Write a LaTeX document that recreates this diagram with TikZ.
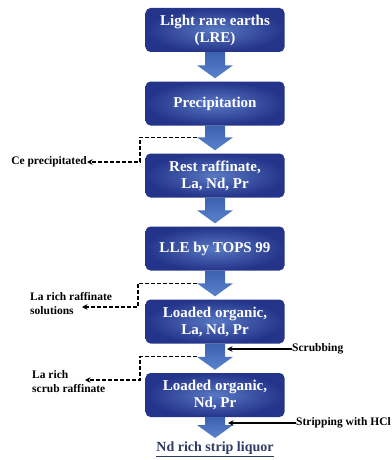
\documentclass[tikz,border=0pt]{standalone}
\usepackage{fontspec}
\setmainfont{Liberation Serif}
\usetikzlibrary{arrows.meta,calc}
\definecolor{boxedge}{HTML}{24348A}
\definecolor{boxcenter}{HTML}{5878C2}
\definecolor{arrowtop}{HTML}{3A62B0}
\definecolor{arrowbot}{HTML}{5A82CC}
\definecolor{productcolor}{HTML}{2E3C66}
\tikzset{
  flow box/.style={rounded corners=5pt,minimum width=139pt,minimum height=44pt,align=center,
    text=white,font=\fontsize{15}{17}\selectfont\bfseries,inner color=boxcenter,outer color=boxedge},
  flow arrow/.style={top color=arrowtop,bottom color=arrowbot},
  side text/.style={font=\fontsize{11.5}{14}\selectfont\bfseries,align=left,inner sep=0pt},
  product text/.style={font=\fontsize{14}{16}\selectfont\bfseries,text=productcolor,inner sep=1pt},
  side out/.style={black,line width=1.3pt,dash pattern=on 4pt off 2pt,-{Stealth[length=5.5pt,width=5.5pt]}},
  side in/.style={black,line width=1.2pt,-{Stealth[length=5.5pt,width=5.5pt]}}
}
\begin{document}
\begin{tikzpicture}[x=1pt,y=-1pt]
  \useasboundingbox (0,0) rectangle (391,460);
  \node[flow box] (lre) at (215,30) {Light rare earths\\(LRE)};
  \node[flow box] (prec) at (215,103.5) {Precipitation};
  \node[flow box] (rest) at (215,175.5) {Rest raffinate,\\La, Nd, Pr};
  \node[flow box] (lle) at (215,248.5) {LLE by TOPS 99};
  \node[flow box] (lo1) at (215,321.5) {Loaded organic,\\La, Nd, Pr};
  \node[flow box] (lo2) at (215,395) {Loaded organic,\\Nd, Pr};
  \node[product text,anchor=north] (strip) at (215,441) {\underline{Nd rich strip liquor}};
  \foreach \a/\b in {lre/prec,prec/rest,rest/lle,lle/lo1,lo1/lo2,lo2/strip}{
    \shade[flow arrow] ($(\a.south)+(-10,0)$) -- ($(\b.north)+(-10,-16)$) -- ($(\b.north)+(-18,-16)$)
      -- ($(\b.north)+(0,-3)$) -- ($(\b.north)+(18,-16)$) -- ($(\b.north)+(10,-16)$)
      -- ($(\a.south)+(10,0)$) -- cycle;
  }
  % side streams
  \node[side text,anchor=east] (ce) at (87,162) {Ce precipitated};
  \node[side text,anchor=north west] (lrr) at (30,292) {La rich raffinate\\solutions};
  \node[side text,anchor=north west] (lsr) at (32,370) {La rich\\scrub raffinate};
  \node[side text,anchor=west] (scrub) at (292,349) {Scrubbing};
  \node[side text,anchor=west] (hcl) at (296,423) {Stripping with HCl};
  \coordinate (lrr end) at (82,307);
  \coordinate (lsr end) at (85,380);
  \coordinate (scrub end) at (227,349);
  \coordinate (hcl end) at (228,423);
  \draw[side out] ($(rest.north)+(-18,-16)$) -| ($(ce.east)+(53,0)$) -- (ce.east);
  \draw[side out] ($(lo1.north)+(-18,-16)$) -| ($(lrr end)+(56,0)$) -- (lrr end);
  \draw[side out] ($(lo2.north)+(-18,-16)$) -| ($(lsr end)+(55,0)$) -- (lsr end);
  \draw[side in] (scrub.west) -- (scrub end);
  \draw[side in] (hcl.west) -- (hcl end);
\end{tikzpicture}
\end{document}
